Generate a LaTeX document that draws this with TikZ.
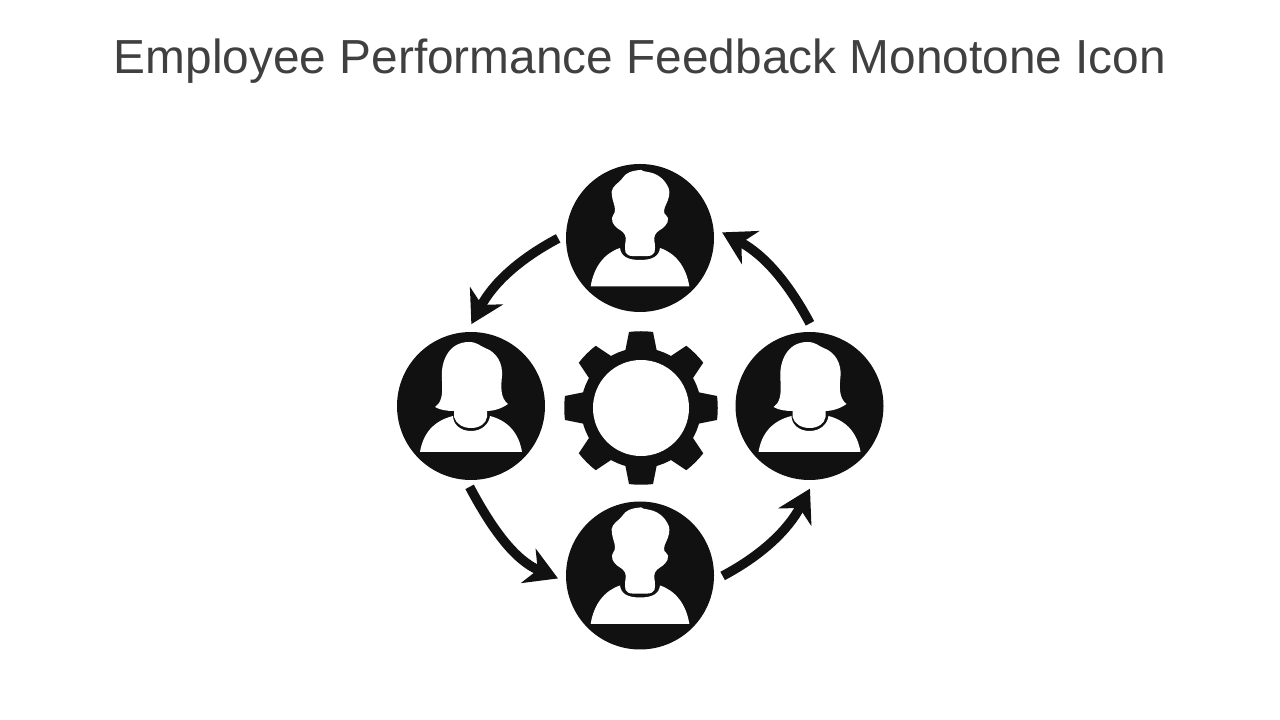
\documentclass[tikz,border=0pt]{standalone}
\usepackage{fontspec}
\setmainfont{Liberation Sans}
\usepackage{xcolor}
\usetikzlibrary{arrows.meta}
\definecolor{ink}{HTML}{111111}
\definecolor{titlecol}{HTML}{404040}
\tikzset{
  badge/.style={circle, fill=ink, minimum size=148pt, inner sep=0pt, outer sep=0pt},
  flow/.style={draw=ink, line width=9.5pt, -{Stealth[length=32pt,width=37pt,inset=10pt]}},
  cut/.style={fill=white, draw=none},
  titlelab/.style={text=titlecol, font=\fontsize{47.8}{56}\selectfont, inner sep=0pt},
  man/.pic={
    \fill[cut] plot[smooth cycle, tension=0.75] coordinates {
      (0,68) (-12,65) (-20,57) (-27,50) (-28,42) (-25,28) (-28,20) (-25,12)
      (-15,3) (-15,-10) (-12,-17) (0,-18) (12,-17) (15,-10) (15,3) (25,12)
      (28,20) (24,27) (29,42) (27,53) (17,63) (3,67)};
    \fill[cut] (-49.3,-48.3) .. controls (-46,-28) and (-35,-15) .. (-20,-10)
      .. controls (-19,-18) and (-13,-22) .. (0,-22)
      .. controls (13,-22) and (19,-18) .. (20,-10)
      .. controls (35,-15) and (46,-28) .. (49.3,-48.3) -- cycle;
  },
  woman/.pic={
    \fill[cut] (-36,-1) .. controls (-30,3) and (-28,10) .. (-29,25)
      .. controls (-31,45) and (-22,64) .. (-2,64)
      .. controls (6,64) and (9,60) .. (14,58)
      .. controls (26,54) and (32,42) .. (31,30)
      .. controls (30,20) and (29,8) .. (37,2)
      .. controls (30,-3) and (22,-5) .. (16,-5) -- (16,-11)
      .. controls (15,-18) and (8,-22) .. (0,-22)
      .. controls (-8,-22) and (-15,-18) .. (-17,-11) -- (-17,-5)
      .. controls (-24,-5) and (-31,-4) .. (-36,-1) -- cycle;
    \fill[cut] (-51,-46) .. controls (-48,-28) and (-38,-15) .. (-18,-10)
      .. controls (-18,-18) and (-11,-25) .. (0,-25)
      .. controls (11,-25) and (18,-18) .. (19,-10)
      .. controls (38,-15) and (48,-28) .. (51,-46) -- cycle;
  },
}
\begin{document}
\begin{tikzpicture}[x=1pt, y=1pt]
  \useasboundingbox (0,0) rectangle (1280,720);
  \node[titlelab] (title) at (640,659) {Employee Performance Feedback Monotone Icon};

  \node[badge] (ptop) at (640,482) {};
  \node[badge] (pleft) at (471,314) {};
  \node[badge] (pright) at (809.5,314) {};
  \node[badge] (pbottom) at (640,144.5) {};
  \pic at (ptop) {man};
  \pic at (pbottom) {man};
  \pic at (pleft) {woman};
  \pic at (pright) {woman};

  % gear
  \coordinate (G) at (641,312);
  \fill[ink] (G) circle (60);
  \foreach \a in {0,45,...,315}
    \fill[ink, shift={(G)}, rotate=\a] (-16,56) -- (-12,76) .. controls (-5,77) and (5,77) .. (12,76) -- (16,56) -- cycle;
  \fill[cut] (G) circle (48);

  % arrows
  \draw[flow, shorten <=9pt, shorten >=9pt] (ptop.177) to[out=208, in=62] (pleft.93);
  \draw[flow, shorten <=8pt, shorten >=9pt] (pleft.266) to[out=-62, in=157] (pbottom.185);
  \draw[flow, shorten <=10pt, shorten >=10pt] (pbottom.356) to[out=28, in=-118] (pright.274);
  \draw[flow, shorten <=10pt, shorten >=10pt] (pright.86) to[out=118, in=-28] (ptop.8);
\end{tikzpicture}
\end{document}
